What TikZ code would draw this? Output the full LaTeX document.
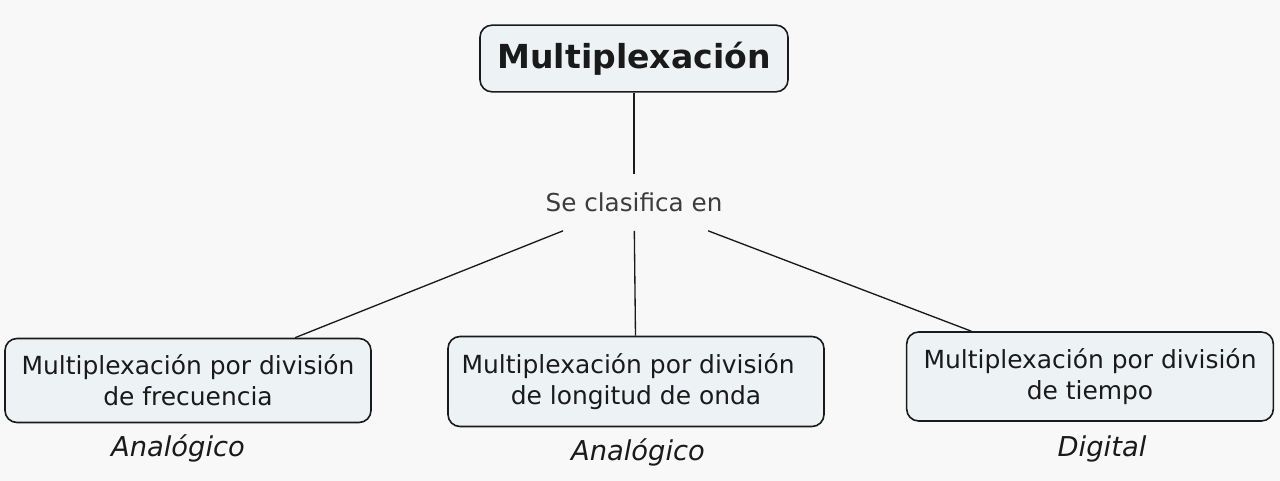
\documentclass[tikz,border=0pt]{standalone}
\usepackage{fontspec}
\setmainfont{DejaVu Sans}
\usetikzlibrary{positioning}
\definecolor{boxfill}{HTML}{EDF3F5}
\definecolor{bgcol}{HTML}{F8F8F8}
\definecolor{ink}{HTML}{1A1A1A}
\tikzstyle{concept}=[draw=ink, fill=boxfill, line width=1.2pt, rounded corners=9pt, align=center, font=\fontsize{18.7}{23.2}\selectfont, text=ink, inner sep=0pt]
\tikzstyle{linkword}=[rectangle, font=\fontsize{18.5}{20}\selectfont, text=ink!85, minimum width=190pt, minimum height=41.5pt, inner sep=0pt]
\tikzstyle{kind}=[font=\itshape\fontsize{20.5}{22}\selectfont, text=ink]

\begin{document}
\begin{tikzpicture}[x=0.75pt, y=-0.75pt, line width=1pt]
  \fill[bgcol] (0,0) rectangle (1280,481);
  \useasboundingbox (0,0) rectangle (1280,481);
  \node[concept, font=\bfseries\fontsize{24.8}{28}\selectfont, minimum width=231pt, minimum height=50pt] (mux) at (634,58.5) {Multiplexación};
  \node[linkword] (clas) at (634,202.5) {Se clasifica en};
  \node[concept, minimum width=274.5pt, minimum height=63pt] (freq) at (188,380.5) {Multiplexación por división\\de frecuencia};
  \node[concept, minimum width=282pt, minimum height=67.5pt] (onda) at (636,381.5) {Multiplexación por división\phantom{n}\\de longitud de onda};
  \node[concept, minimum width=275pt, minimum height=66.75pt] (tiem) at (1090,376.5) {Multiplexación por división\\de tiempo};
  \node[kind] (k1) at (178,448) {Analógico};
  \node[kind] (k2) at (638,452) {Analógico};
  \node[kind] (k3) at (1102,449) {Digital};
  \path[draw=ink] (mux) edge (clas);
  \path[draw=ink] (clas) edge (freq);
  \path[draw=ink] (clas) edge (onda);
  \path[draw=ink] (clas) edge (tiem);
\end{tikzpicture}
\end{document}
